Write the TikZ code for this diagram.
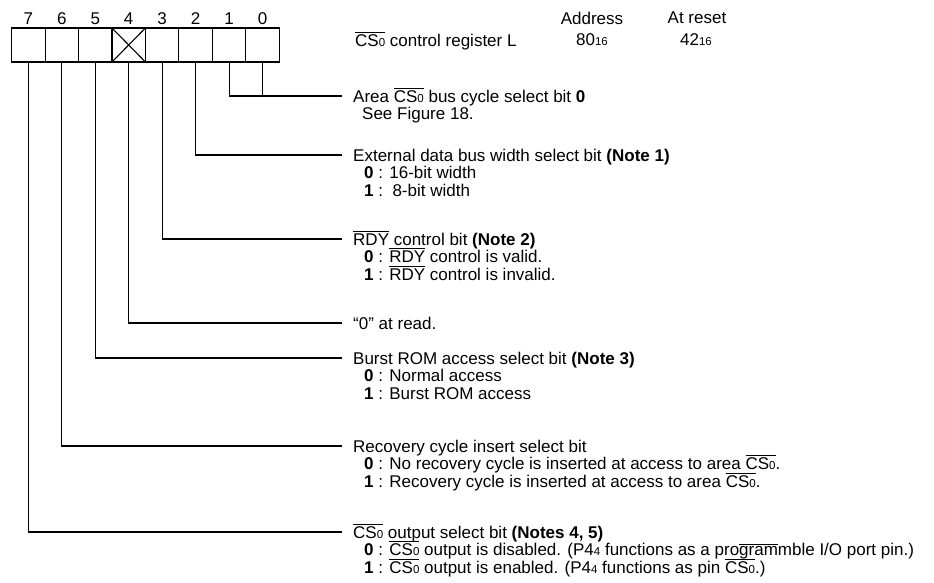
\documentclass[tikz,border=0pt]{standalone}
\usepackage{fontspec}
\setmainfont{Liberation Sans}
\usetikzlibrary{positioning,calc}
\newcommand{\ovl}[1]{\setbox0\hbox{#1}\rlap{\raise\dimexpr\ht0+1.5pt\relax\hbox{\vrule width\wd0 height 0.9pt depth 0pt}}\box0}
\newcommand{\sml}[1]{{\fontsize{11.5}{12}\selectfont #1}}
\newcommand{\CSo}{\ovl{CS\sml{0}}}
\newcommand{\RDY}{\ovl{RDY}}

\begin{document}
\begin{tikzpicture}[x=1pt,y=-1pt,font=\fontsize{17}{18}\selectfont]
\tikzset{BIT/.style={draw,line width=1.1pt,minimum width=33.45pt,minimum height=34pt,inner sep=0pt,outer sep=0pt}}
\tikzset{BITNUM/.style={inner sep=0pt}}
\tikzset{FIELD/.style={anchor=west,inner ysep=0pt,inner xsep=11pt,text height=12pt,text depth=0pt}}
\tikzset{VALUE/.style={anchor=west,inner sep=0pt,text height=12pt,text depth=0pt}}
\tikzset{LEADER/.style={draw,line width=1.1pt}}

\useasboundingbox (0,0) rectangle (934,582);

\foreach \b in {0,...,7}{
  \node[BIT] (b\b) at ({262.5-33.45*\b},45) {};
  \node[BITNUM] (n\b) at ({262.5-33.45*\b},19) {\b};
}
\draw[line width=1.1pt] (b4.north west) -- (b4.south east) (b4.south west) -- (b4.north east);

\node[FIELD,inner xsep=0pt] (reg) at (355,40) {\CSo{} control register L};
\node (addr) at (592,18) {Address};
\node (addrval) at (592,40) {80\sml{16}};
\node (rst) at (697,18) {At reset};
\node (rstval) at (696,40) {42\sml{16}};

\node[FIELD] (f0) at (342,96) {Area \CSo{} bus cycle select bit \textbf{0}};
\node[VALUE] (f0a) at (362,113.5) {See Figure 18.};

\node[FIELD] (f2) at (342,155) {External data bus width select bit \textbf{(Note 1)}};
\node[VALUE] (f2a) at (364,172.5) {\textbf{0} : 16-bit width};
\node[VALUE] (f2b) at (364,190) {\textbf{1} :\ \ 8-bit width};

\node[FIELD] (f3) at (342,239) {\RDY{} control bit \textbf{(Note 2)}};
\node[VALUE] (f3a) at (364,256.5) {\textbf{0} : \RDY{} control is valid.};
\node[VALUE] (f3b) at (364,274) {\textbf{1} : \RDY{} control is invalid.};

\node[FIELD] (f4) at (342,323) {``0'' at read.};

\node[FIELD] (f5) at (342,358) {Burst ROM access select bit \textbf{(Note 3)}};
\node[VALUE] (f5a) at (364,375.5) {\textbf{0} : Normal access};
\node[VALUE] (f5b) at (364,393) {\textbf{1} : Burst ROM access};

\node[FIELD] (f6) at (342,446) {Recovery cycle insert select bit};
\node[VALUE] (f6a) at (364,463.5) {\textbf{0} : No recovery cycle is inserted at access to area \CSo.};
\node[VALUE] (f6b) at (364,481) {\textbf{1} : Recovery cycle is inserted at access to area \CSo.};

\node[FIELD] (f7) at (342,532) {\CSo{} output select bit \textbf{(Notes 4, 5)}};
\node[VALUE] (f7a) at (364,549.5) {\textbf{0} : \CSo{} output is disabled. (P4\sml{4} functions as a pro\ovl{gram}mble I/O port pin.)};
\node[VALUE] (f7b) at (364,567) {\textbf{1} : \CSo{} output is enabled. (P4\sml{4} functions as pin \CSo.)};

\path[LEADER] (b1.south) |- (f0.west);
\path[LEADER] (b0.south) -- (b0.south |- f0.west);
\path[LEADER] (b2.south) |- (f2.west);
\path[LEADER] (b3.south) |- (f3.west);
\path[LEADER] (b4.south) |- (f4.west);
\path[LEADER] (b5.south) |- (f5.west);
\path[LEADER] (b6.south) |- (f6.west);
\path[LEADER] (b7.south) |- (f7.west);
\end{tikzpicture}
\end{document}
